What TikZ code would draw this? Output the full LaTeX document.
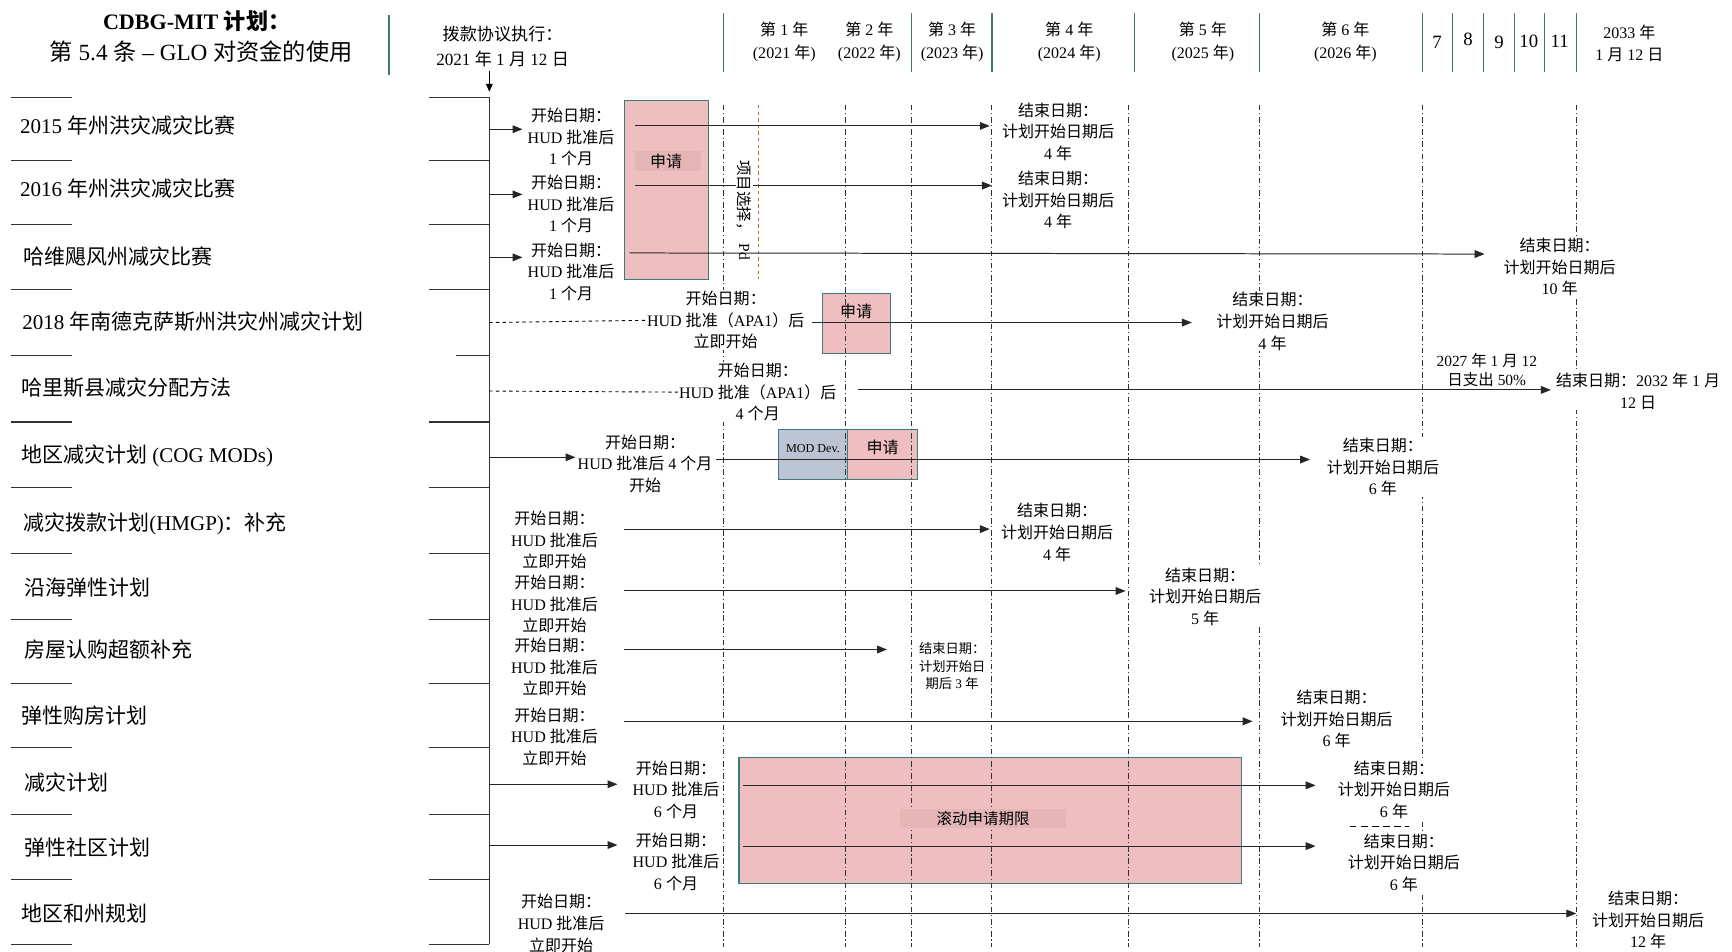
\documentclass[tikz,border=0pt]{standalone}
\usepackage{fontspec}
\setmainfont{Liberation Serif}
\newfontfamily\cjk{Noto Sans CJK SC}
\usetikzlibrary{arrows.meta}
\XeTeXinterchartokenstate=1
\newXeTeXintercharclass\cjkcls
\newcount\mycnt
\mycnt="3000 \loop\ifnum\mycnt<"3040 \XeTeXcharclass\mycnt=\cjkcls \advance\mycnt by 1 \repeat
\mycnt="4E00 \loop\ifnum\mycnt<"A000 \XeTeXcharclass\mycnt=\cjkcls \advance\mycnt by 1 \repeat
\mycnt="FF00 \loop\ifnum\mycnt<"FF60 \XeTeXcharclass\mycnt=\cjkcls \advance\mycnt by 1 \repeat
\XeTeXinterchartoks 0 \cjkcls = {\cjk}
\XeTeXinterchartoks 4095 \cjkcls = {\cjk}
\XeTeXinterchartoks \cjkcls 0 = {\rmfamily}
\XeTeXinterchartoks \cjkcls 4095 = {\rmfamily}
\definecolor{tealc}{HTML}{3E7B78}
\definecolor{pinkc}{HTML}{EFBEC0}
\definecolor{bandc}{HTML}{E4B6B8}
\definecolor{modc}{HTML}{BCC3D3}
\definecolor{orangec}{HTML}{C0683A}
\tikzset{
 lab/.style={anchor=west, inner sep=0pt, font=\fontsize{19}{23}\selectfont},
 txt/.style={align=center, fill=white, inner sep=1pt, font=\fontsize{14.5}{19.5}\selectfont},
 smalltxt/.style={align=center, fill=white, inner sep=1pt, font=\fontsize{12}{15.5}\selectfont},
 hdr/.style={align=center, inner sep=0pt, font=\fontsize{14.5}{20}\selectfont},
 arr/.style={-{Triangle[length=9pt,width=7pt]}, line width=0.9pt, draw=black!85},
 ddash/.style={dash pattern=on 5pt off 2.5pt on 1pt off 2.5pt, line width=0.8pt, draw=black!80},
 tline/.style={draw=tealc, line width=1.3pt},
 tick/.style={line width=1pt, draw=black!80},
 pbox/.style={fill=pinkc, draw=tealc, line width=1pt},
 mbox/.style={fill=modc, draw=tealc, line width=1pt},
 boxlab/.style={inner sep=0pt, font=\fontsize{14.5}{17}\selectfont},
}
\begin{document}
\begin{tikzpicture}[x=1pt,y=-1pt]
\useasboundingbox[fill=white] (0,0) rectangle (1568,861);

% ---------- header ----------
\node[inner sep=0pt, font=\bfseries\fontsize{20}{24}\selectfont] (t1) at (178,19) {CDBG-MIT 计划：};
\node[inner sep=0pt, font=\fontsize{21}{25}\selectfont] (t2) at (182,47) {第 5.4 条 – GLO 对资金的使用};
\draw[tline] (352,14) -- (352,68);
\node[hdr, font=\fontsize{15.5}{22}\selectfont] (exec) at (455,42) {拨款协议执行：\\2021 年 1 月 12 日};
\coordinate (ea) at (443,64);
\coordinate (eb) at (443,83);
\draw[-{Triangle[length=7pt,width=6pt]}, line width=0.9pt] (ea) -- (eb);

\foreach \x in {655,825,898,1027,1140,1288,1315,1343,1371,1398,1427}
  \draw[tline] (\x,12) -- (\x,65);
\node[hdr] (y1) at (710,38) {第 1 年\\(2021 年)};
\node[hdr] (y2) at (787,38) {第 2 年\\(2022 年)};
\node[hdr] (y3) at (862,38) {第 3 年\\(2023 年)};
\node[hdr] (y4) at (968,38) {第 4 年\\(2024 年)};
\node[hdr] (y5) at (1089,38) {第 5 年\\(2025 年)};
\node[hdr] (y6) at (1218,38) {第 6 年\\(2026 年)};
\node[inner sep=0pt, font=\fontsize{17}{20}\selectfont] (y7) at (1301,38) {7};
\node[inner sep=0pt, font=\fontsize{17}{20}\selectfont] (y8) at (1329,36) {8};
\node[inner sep=0pt, font=\fontsize{17}{20}\selectfont] (y9) at (1357,38) {9};
\node[inner sep=0pt, font=\fontsize{17}{20}\selectfont] (y10) at (1384,37) {10};
\node[inner sep=0pt, font=\fontsize{17}{20}\selectfont] (y11) at (1412,37) {11};
\node[hdr] (y12) at (1475,39) {2033 年\\1 月 12 日};

% ---------- boxes ----------
\draw[pbox] (565,91) rectangle (641,253);
\draw[pbox] (745,266) rectangle (806,320);
\draw[mbox] (705,389) rectangle (767,434);
\draw[pbox] (767,389) rectangle (831,434);
\draw[pbox] (669,686) rectangle (1124,800);

% ---------- vertical guide lines ----------
\foreach \x in {655,765,825,898,1022,1140,1288,1427}
  \draw[ddash] (\x,95) -- (\x,857);
\draw[orangec, dashed, line width=0.9pt] (687,95) -- (687,253);

% ---------- left column ----------
\draw[tick] (443,88) -- (443,855);
\foreach \y in {88,145,203,262,382,441,501,561,619,677,737,796,855}
  \draw[tick] (388,\y) -- (443,\y);
\draw[tick] (413,322) -- (443,322);
\foreach \y in {88,145,203,262,322,382,441,501,561,619,677,737,796,855}
  \draw[tick] (10,\y) -- (65,\y);

\node[lab] (l1) at (18,114) {2015 年州洪灾减灾比赛};
\node[lab] (l2) at (18,171) {2016 年州洪灾减灾比赛};
\node[lab] (l3) at (21,232) {哈维飓风州减灾比赛};
\node[lab] (l4) at (20,291) {2018 年南德克萨斯州洪灾州减灾计划};
\node[lab] (l5) at (19,351) {哈里斯县减灾分配方法};
\node[lab] (l6) at (19,413) {地区减灾计划 (COG MODs)};
\node[lab] (l7) at (21,474) {减灾拨款计划(HMGP)：补充};
\node[lab] (l8) at (22,532) {沿海弹性计划};
\node[lab] (l9) at (22,588) {房屋认购超额补充};
\node[lab] (l10) at (19,648) {弹性购房计划};
\node[lab] (l11) at (22,708) {减灾计划};
\node[lab] (l12) at (22,767) {弹性社区计划};
\node[lab] (l13) at (19,827) {地区和州规划};

% ---------- coordinates for timelines ----------
\coordinate (b1a) at (443,117); \coordinate (b1b) at (473,117);
\coordinate (b2a) at (443,176); \coordinate (b2b) at (473,176);
\coordinate (b3a) at (443,233); \coordinate (b3b) at (473,233);
\coordinate (b4a) at (443,292);
\coordinate (b5a) at (443,354);
\coordinate (b6a) at (443,414); \coordinate (b6b) at (521,414);
\coordinate (b11a) at (443,710); \coordinate (b11b) at (559,710);
\coordinate (b12a) at (443,765); \coordinate (b12b) at (559,765);

\coordinate (r1a) at (575,114); \coordinate (r1b) at (896,114);
\coordinate (r2a) at (575,168); \coordinate (r2b) at (898,168);
\coordinate (r3a) at (570,229); \coordinate (r3b) at (1344,230);
\coordinate (r4a) at (735,292); \coordinate (r4b) at (1079,292);
\coordinate (r5a) at (777,353); \coordinate (r5b) at (1404,353);
\coordinate (r6a) at (648,416); \coordinate (r6b) at (1186,416);
\coordinate (r7a) at (565,479); \coordinate (r7b) at (896,479);
\coordinate (r8a) at (565,535); \coordinate (r8b) at (1019,535);
\coordinate (r9a) at (565,588); \coordinate (r9b) at (803,588);
\coordinate (r10a) at (565,653); \coordinate (r10b) at (1134,653);
\coordinate (r11a) at (673,711); \coordinate (r11b) at (1191,711);
\coordinate (r12a) at (673,766); \coordinate (r12b) at (1191,766);
\coordinate (r13a) at (566,827); \coordinate (r13b) at (1427,827);

\foreach \n in {1,2,3,6,11,12} \draw[arr] (b\n a) -- (b\n b);
\foreach \n in {1,...,13} \draw[arr] (r\n a) -- (r\n b);

% ---------- start texts ----------
\node[txt] (s1) at (517,124) {开始日期：\\HUD 批准后\\1 个月};
\node[txt] (s2) at (517,185) {开始日期：\\HUD 批准后\\1 个月};
\node[txt] (s3) at (517,246) {开始日期：\\HUD 批准后\\1 个月};
\node[txt] (s4) at (657,290) {开始日期：\\HUD 批准（APA1）后\\立即开始};
\node[txt] (s5) at (686,355) {开始日期：\\HUD 批准（APA1）后\\4 个月};
\node[txt] (s6) at (584,420) {开始日期：\\HUD 批准后 4 个月\\开始};
\node[txt] (s7) at (502,489) {开始日期：\\HUD 批准后\\立即开始};
\node[txt] (s8) at (502,547) {开始日期：\\HUD 批准后\\立即开始};
\node[txt] (s9) at (502,604) {开始日期：\\HUD 批准后\\立即开始};
\node[txt] (s10) at (502,667) {开始日期：\\HUD 批准后\\立即开始};
\node[txt] (s11) at (612,715) {开始日期：\\HUD 批准后\\6 个月};
\node[txt] (s12) at (612,780) {开始日期：\\HUD 批准后\\6 个月};
\node[txt] (s13) at (508,836) {开始日期：\\HUD 批准后\\立即开始};

\draw[dashed, line width=0.8pt] (b4a) -- (s4.west);
\draw[dashed, line width=0.8pt] (b5a) -- (s5.west);

% ---------- end texts ----------
\node[txt] (e1) at (958,119) {结束日期：\\计划开始日期后\\4 年};
\node[txt] (e2) at (958,181) {结束日期：\\计划开始日期后\\4 年};
\node[txt] (e3) at (1412,242) {结束日期：\\计划开始日期后\\10 年};
\node[txt] (e4) at (1152,291) {结束日期：\\计划开始日期后\\4 年};
\node[txt] (e5) at (1483,354) {结束日期：2032 年 1 月\\12 日};
\node[txt, fill=none, font=\fontsize{14}{16.5}\selectfont] (m5) at (1346,335) {2027 年 1 月 12\\日支出 50\%};
\node[txt] (e6) at (1252,423) {结束日期：\\计划开始日期后\\6 年};
\node[txt] (e7) at (957,482) {结束日期：\\计划开始日期后\\4 年};
\node[txt] (e8) at (1091,540) {结束日期：\\计划开始日期后\\5 年};
\node[smalltxt] (e9) at (862,603) {结束日期：\\计划开始日\\期后 3 年};
\node[txt] (e10) at (1210,651) {结束日期：\\计划开始日期后\\6 年};
\node[txt] (e11) at (1262,715) {结束日期：\\计划开始日期后\\6 年};
\node[txt] (e12) at (1271,781) {结束日期：\\计划开始日期后\\6 年};
\node[txt] (e13) at (1492,833) {结束日期：\\计划开始日期后\\12 年};
\coordinate (d1) at (1222,748); \coordinate (d2) at (1276,748);
\draw[dash pattern=on 6pt off 4pt, line width=0.8pt] (d1) -- (d2);

% ---------- box labels ----------
\fill[bandc] (575,137) rectangle (635,155);
\node[boxlab] (ap1) at (603,146) {申请};
\node[boxlab] (ap2) at (775,282) {申请};
\node[boxlab, font=\fontsize{11}{13}\selectfont] (mod) at (736,406) {MOD Dev.};
\node[boxlab] (ap3) at (799,405) {申请};
\fill[bandc] (815,732) rectangle (965,750);
\node[boxlab, font=\fontsize{14}{16}\selectfont] (roll) at (890,741) {滚动申请期限};
\node[fill=white, inner sep=1pt, rotate=-90, font=\fontsize{14}{16}\selectfont] (sel) at (674,180) {项目选择，};
\node[inner sep=0pt, rotate=-90, font=\fontsize{14}{16}\selectfont, anchor=west] (pd) at ([yshift=-4pt]sel.east) {Pd};
\end{tikzpicture}
\end{document}
